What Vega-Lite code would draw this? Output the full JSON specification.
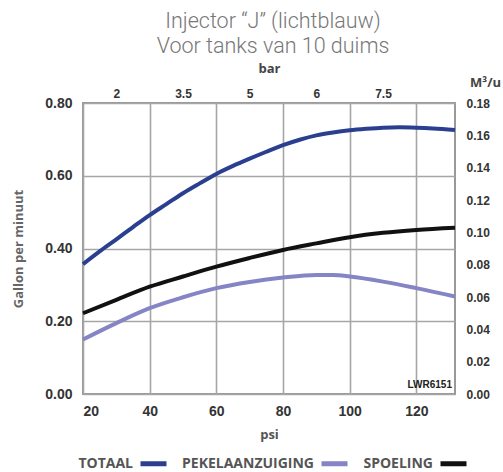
{
  "$schema": "https://vega.github.io/schema/vega-lite/v6.json",
  "width": 372,
  "height": 291,
  "autosize": {"type": "none"},
  "padding": {"left": 83, "top": 103, "right": 48, "bottom": 78},
  "background": "white",
  "config": {
    "view": {"stroke": "#999999", "strokeWidth": 2},
    "axis": {"labelFont": "Liberation Sans", "labelFontWeight": "bold", "labelFontSize": 14, "labelColor": "#333333", "titleFont": "Open Sans", "titleFontWeight": "bold", "titleFontSize": 13, "titleColor": "#666666", "ticks": false, "domain": false, "gridColor": "#a6a6a6", "gridWidth": 1.6, "gridOpacity": 1}
  },
  "title": {
    "text": ["Injector “J” (lichtblauw)", "Voor tanks van 10 duims"],
    "font": "Roboto",
    "fontWeight": 300,
    "fontSize": 21.5,
    "lineHeight": 25,
    "color": "#777777",
    "anchor": "middle",
    "offset": 5,
    "dx": 4
  },
  "datasets": {
    "curves": [
      {"psi": 20, "gpm": 0.357, "serie": "TOTAAL"},
      {"psi": 25, "gpm": 0.392, "serie": "TOTAAL"},
      {"psi": 30, "gpm": 0.425, "serie": "TOTAAL"},
      {"psi": 35, "gpm": 0.459, "serie": "TOTAAL"},
      {"psi": 40, "gpm": 0.492, "serie": "TOTAAL"},
      {"psi": 45, "gpm": 0.522, "serie": "TOTAAL"},
      {"psi": 50, "gpm": 0.552, "serie": "TOTAAL"},
      {"psi": 55, "gpm": 0.579, "serie": "TOTAAL"},
      {"psi": 60, "gpm": 0.605, "serie": "TOTAAL"},
      {"psi": 65, "gpm": 0.627, "serie": "TOTAAL"},
      {"psi": 70, "gpm": 0.647, "serie": "TOTAAL"},
      {"psi": 75, "gpm": 0.666, "serie": "TOTAAL"},
      {"psi": 80, "gpm": 0.684, "serie": "TOTAAL"},
      {"psi": 85, "gpm": 0.699, "serie": "TOTAAL"},
      {"psi": 90, "gpm": 0.711, "serie": "TOTAAL"},
      {"psi": 95, "gpm": 0.719, "serie": "TOTAAL"},
      {"psi": 100, "gpm": 0.725, "serie": "TOTAAL"},
      {"psi": 105, "gpm": 0.729, "serie": "TOTAAL"},
      {"psi": 110, "gpm": 0.732, "serie": "TOTAAL"},
      {"psi": 115, "gpm": 0.733, "serie": "TOTAAL"},
      {"psi": 120, "gpm": 0.732, "serie": "TOTAAL"},
      {"psi": 125, "gpm": 0.730, "serie": "TOTAAL"},
      {"psi": 131.6, "gpm": 0.726, "serie": "TOTAAL"},
      {"psi": 20, "gpm": 0.150, "serie": "PEKELAANZUIGING"},
      {"psi": 30, "gpm": 0.195, "serie": "PEKELAANZUIGING"},
      {"psi": 40, "gpm": 0.236, "serie": "PEKELAANZUIGING"},
      {"psi": 50, "gpm": 0.266, "serie": "PEKELAANZUIGING"},
      {"psi": 60, "gpm": 0.291, "serie": "PEKELAANZUIGING"},
      {"psi": 70, "gpm": 0.308, "serie": "PEKELAANZUIGING"},
      {"psi": 80, "gpm": 0.320, "serie": "PEKELAANZUIGING"},
      {"psi": 90, "gpm": 0.327, "serie": "PEKELAANZUIGING"},
      {"psi": 95, "gpm": 0.327, "serie": "PEKELAANZUIGING"},
      {"psi": 100, "gpm": 0.323, "serie": "PEKELAANZUIGING"},
      {"psi": 110, "gpm": 0.309, "serie": "PEKELAANZUIGING"},
      {"psi": 120, "gpm": 0.291, "serie": "PEKELAANZUIGING"},
      {"psi": 131.6, "gpm": 0.268, "serie": "PEKELAANZUIGING"},
      {"psi": 20, "gpm": 0.222, "serie": "SPOELING"},
      {"psi": 30, "gpm": 0.259, "serie": "SPOELING"},
      {"psi": 40, "gpm": 0.295, "serie": "SPOELING"},
      {"psi": 50, "gpm": 0.323, "serie": "SPOELING"},
      {"psi": 60, "gpm": 0.350, "serie": "SPOELING"},
      {"psi": 70, "gpm": 0.374, "serie": "SPOELING"},
      {"psi": 80, "gpm": 0.396, "serie": "SPOELING"},
      {"psi": 90, "gpm": 0.414, "serie": "SPOELING"},
      {"psi": 100, "gpm": 0.431, "serie": "SPOELING"},
      {"psi": 110, "gpm": 0.443, "serie": "SPOELING"},
      {"psi": 120, "gpm": 0.451, "serie": "SPOELING"},
      {"psi": 131.6, "gpm": 0.457, "serie": "SPOELING"}
    ],
    "code": [{"psi": 131.6, "gpm": 0, "label": "LWR6151"}],
    "m3": [{"psi": 20, "m3u": 0}, {"psi": 131.6, "m3u": 0.18}]
  },
  "layer": [
    {
      "data": {"name": "curves"},
      "mark": {"type": "line", "strokeWidth": 4, "interpolate": "monotone", "strokeCap": "butt"},
      "encoding": {
        "x": {"field": "psi", "type": "quantitative", "scale": {"domain": [20, 131.6], "nice": false, "zero": false},
          "axis": {"orient": "bottom", "values": [20, 40, 60, 80, 100, 120], "title": "psi", "titleColor": "#555555", "labelPadding": 10, "titlePadding": 10, "grid": true}},
        "y": {"field": "gpm", "type": "quantitative", "scale": {"domain": [0, 0.8], "nice": false},
          "axis": {"orient": "left", "values": [0, 0.2, 0.4, 0.6, 0.8], "format": ".2f", "title": "Gallon per minuut", "labelPadding": 11, "titlePadding": 19, "grid": true}},
        "color": {"field": "serie", "type": "nominal",
          "scale": {"domain": ["TOTAAL", "PEKELAANZUIGING", "SPOELING"], "range": ["#2b3f91", "#8585c5", "#111111"]},
          "legend": {"orient": "none", "legendX": 55, "legendY": 345, "direction": "horizontal", "title": null,
            "symbolType": "stroke", "symbolSize": 676, "symbolStrokeWidth": 5,
            "labelFont": "Open Sans", "labelFontWeight": "bold", "labelFontSize": 14, "labelColor": "#555555",
            "labelAlign": "right", "labelOffset": -36, "columnPadding": 5, "symbolOffset": 0, "labelLimit": 300}}
      }
    },
    {
      "data": {"name": "code"},
      "mark": {"type": "text", "align": "right", "baseline": "bottom", "dx": -3, "dy": -4, "font": "Liberation Sans", "fontWeight": "bold", "fontSize": 10, "color": "#222222"},
      "encoding": {
        "x": {"field": "psi", "type": "quantitative", "scale": {"domain": [20, 131.6], "nice": false, "zero": false}, "axis": null},
        "y": {"field": "gpm", "type": "quantitative", "scale": {"domain": [0, 0.8], "nice": false}, "axis": null},
        "text": {"field": "label"}
      }
    },
    {
      "data": {"name": "m3"},
      "mark": {"type": "point", "opacity": 0},
      "encoding": {
        "x": {"field": "psi", "type": "quantitative", "scale": {"domain": [20, 131.6], "nice": false, "zero": false},
          "axis": {"orient": "top", "values": [30, 50, 70, 90, 110], "grid": false, "title": "bar", "titleColor": "#444444", "labelFontSize": 12, "labelPadding": 3, "titlePadding": 12,
            "labelExpr": "datum.value == 30 ? '2' : datum.value == 50 ? '3.5' : datum.value == 70 ? '5' : datum.value == 90 ? '6' : '7.5'"}},
        "y": {"field": "m3u", "type": "quantitative", "scale": {"domain": [0, 0.18], "nice": false},
          "axis": {"orient": "right", "values": [0, 0.02, 0.04, 0.06, 0.08, 0.1, 0.12, 0.14, 0.16, 0.18], "format": ".2f", "grid": false, "labelPadding": 11, "labelFontSize": 12,
            "title": "M³/u", "titleAngle": 0, "titleColor": "#444444", "titleFontSize": 13, "titleAlign": "center", "titleBaseline": "middle", "titleX": 30, "titleY": -21}}
      }
    }
  ],
  "resolve": {"scale": {"y": "independent"}, "axis": {"x": "independent", "y": "independent"}}
}
